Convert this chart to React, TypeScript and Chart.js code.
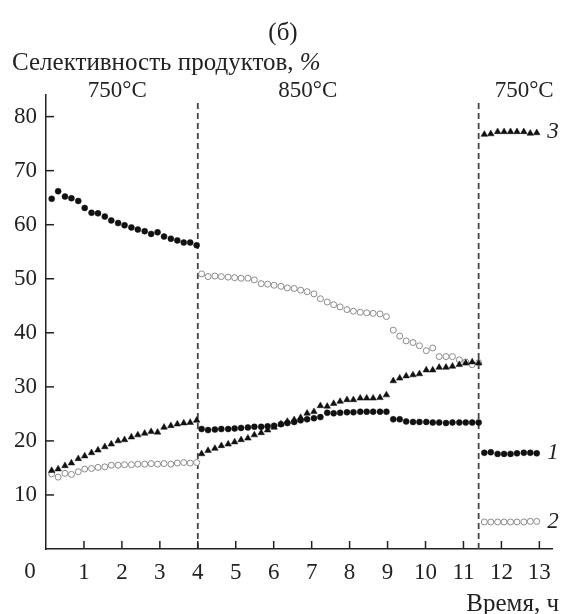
import { useEffect, useRef } from "react";
import { Chart, registerables } from "chart.js";

Chart.register(...registerables);

// Time points (h)
const timesPhase1 = [0.15, 0.32, 0.5, 0.67, 0.85, 1.02, 1.2, 1.37, 1.55, 1.72, 1.9, 2.07, 2.25, 2.42, 2.6, 2.77, 2.94, 3.11, 3.29, 3.46, 3.63, 3.8, 3.97];
const timesPhase2 = [4.1, 4.27, 4.45, 4.62, 4.8, 4.97, 5.14, 5.32, 5.49, 5.67, 5.84, 6.01, 6.19, 6.36, 6.54, 6.71, 6.88, 7.06, 7.23, 7.41, 7.58, 7.75, 7.93, 8.1, 8.28, 8.45, 8.62, 8.8, 8.97, 9.15, 9.32, 9.49, 9.67, 9.84, 10.02, 10.19, 10.36, 10.54, 10.71, 10.89, 11.06, 11.23, 11.4];
const timesPhase3 = [11.55, 11.72, 11.9, 12.07, 12.24, 12.41, 12.59, 12.76, 12.93];

// Series 1 (filled circles)
const series1Phase1 = [64.8, 66.2, 65.2, 64.9, 64.4, 63.1, 62.2, 62.1, 61.5, 60.8, 60.3, 59.9, 59.5, 59.1, 58.8, 58.3, 58.6, 57.8, 57.4, 57.1, 56.7, 56.7, 56.2];
const series1Phase2 = [22.2, 22.0, 22.1, 22.2, 22.2, 22.3, 22.4, 22.5, 22.6, 22.6, 22.7, 22.8, 23.1, 23.3, 23.5, 23.8, 24.0, 24.2, 24.4, 25.2, 25.1, 25.2, 25.3, 25.3, 25.4, 25.4, 25.4, 25.4, 25.4, 24.0, 24.0, 23.6, 23.5, 23.5, 23.5, 23.4, 23.4, 23.3, 23.4, 23.4, 23.4, 23.4, 23.4];
const series1Phase3 = [17.8, 17.9, 17.6, 17.6, 17.6, 17.7, 17.8, 17.8, 17.7];

// Series 2 (open circles)
const series2Phase1 = [13.9, 13.3, 14.0, 13.8, 14.3, 14.8, 14.9, 15.1, 15.2, 15.5, 15.5, 15.6, 15.6, 15.7, 15.7, 15.8, 15.7, 15.8, 15.7, 15.9, 16.0, 15.9, 16.0];
const series2Phase2 = [50.9, 50.4, 50.5, 50.4, 50.3, 50.2, 50.1, 50.1, 49.8, 49.1, 49.0, 48.8, 48.6, 48.3, 48.2, 47.9, 47.6, 47.2, 46.3, 45.7, 45.2, 44.8, 44.3, 44.0, 43.8, 43.7, 43.6, 43.5, 43.0, 40.5, 39.4, 38.5, 38.2, 37.6, 36.7, 37.2, 35.6, 35.6, 35.6, 35.0, 34.6, 34.1, 34.5];
const series2Phase3 = [5.0, 5.0, 5.0, 5.0, 5.0, 5.0, 5.0, 5.1, 5.1];

// Series 3 (triangles)
const series3Phase1 = [14.5, 14.8, 15.4, 15.9, 16.7, 17.2, 17.8, 18.3, 18.9, 19.4, 20.0, 20.2, 20.7, 21.1, 21.4, 21.7, 21.6, 22.5, 22.8, 23.1, 23.3, 23.4, 23.8];
const series3Phase2 = [17.6, 18.2, 18.6, 19.1, 19.4, 19.8, 20.2, 20.5, 21.1, 21.5, 22.0, 22.5, 23.1, 23.6, 23.9, 24.3, 25.1, 25.4, 26.5, 26.4, 26.9, 27.3, 27.6, 27.6, 27.9, 27.9, 27.9, 28.0, 28.5, 31.1, 31.6, 32.0, 32.2, 32.4, 33.1, 33.1, 33.6, 33.6, 33.8, 34.1, 34.4, 34.6, 34.4];
const series3Phase3 = [76.7, 76.8, 77.2, 77.2, 77.2, 77.2, 77.2, 76.9, 77.0];

const xTickValues = [1, 2, 3, 4, 5, 6, 7, 8, 9, 10, 11, 12, 13];
const yTickValues = [10, 20, 30, 40, 50, 60, 70, 80];
const dividerTimes = [4, 11.4];
const tempLabels = ["750°C", "850°C", "750°C"];
const tempLabelTimes = [1.88, 6.9, 12.6];
const seriesLabels = ["1", "2", "3"];
const seriesLabelValues = [17.8, 5.0, 77.2];

const SERIF = "'Liberation Serif', 'Times New Roman', serif";

const pts = (xs: number[], ys: number[]) => xs.map((x, i) => ({ x, y: ys[i] }));

const decorPlugin = {
  id: "decor",
  afterDraw(chart: any) {
    const { ctx, chartArea } = chart;
    const x = chart.scales.x;
    const y = chart.scales.y;
    ctx.save();
    ctx.strokeStyle = "#222";
    ctx.lineWidth = 1.5;
    xTickValues.forEach((v) => {
      const px = x.getPixelForValue(v);
      ctx.beginPath();
      ctx.moveTo(px, chartArea.bottom);
      ctx.lineTo(px, chartArea.bottom - 8);
      ctx.stroke();
    });
    yTickValues.forEach((v) => {
      const py = y.getPixelForValue(v);
      ctx.beginPath();
      ctx.moveTo(chartArea.left, py);
      ctx.lineTo(chartArea.left + 8, py);
      ctx.stroke();
    });

    ctx.fillStyle = "#222";
    ctx.textBaseline = "middle";
    // subplot label
    ctx.font = `25px ${SERIF}`;
    ctx.textAlign = "center";
    ctx.fillText("(б)", 283, 33);
    // y axis title
    ctx.textAlign = "left";
    const main = "Селективность продуктов, ";
    ctx.fillText(main, 12, 63);
    const w = ctx.measureText(main).width;
    ctx.font = `italic 25px ${SERIF}`;
    ctx.fillText("%", 12 + w, 63);
    // x axis title
    ctx.font = `25px ${SERIF}`;
    ctx.textAlign = "right";
    ctx.fillText("Время, ч", 559, 604);
    // origin zero
    ctx.font = `23px ${SERIF}`;
    ctx.textAlign = "center";
    ctx.fillText("0", 30, 572);
    // temperatures
    tempLabels.forEach((t, i) => {
      ctx.fillText(t, x.getPixelForValue(tempLabelTimes[i]), 91);
    });
    // series numbers
    ctx.font = `italic 23px ${SERIF}`;
    seriesLabels.forEach((s, i) => {
      ctx.fillText(s, 553, y.getPixelForValue(seriesLabelValues[i]));
    });
    ctx.restore();
  },
};

export default function App() {
  const ref = useRef<HTMLCanvasElement | null>(null);
  useEffect(() => {
    if (!ref.current) return;
    const dividerSets = dividerTimes.map((t) => ({
      type: "line" as const,
      data: [
        { x: t, y: 0 },
        { x: t, y: 83 },
      ],
      borderColor: "#444",
      borderWidth: 1.8,
      borderDash: [6, 4],
      pointRadius: 0,
      showLine: true,
      order: 10,
    }));
    const chart = new Chart(ref.current, {
      type: "scatter",
      data: {
        datasets: [
          {
            label: "1",
            data: [...pts(timesPhase1, series1Phase1), ...pts(timesPhase2, series1Phase2), ...pts(timesPhase3, series1Phase3)],
            pointStyle: "circle",
            pointRadius: 3,
            backgroundColor: "#111",
            borderColor: "#111",
            borderWidth: 0.5,
            order: 1,
          },
          {
            label: "2",
            data: [...pts(timesPhase1, series2Phase1), ...pts(timesPhase2, series2Phase2), ...pts(timesPhase3, series2Phase3)],
            pointStyle: "circle",
            pointRadius: 3,
            backgroundColor: "#fff",
            borderColor: "#8a8a8a",
            borderWidth: 1,
            order: 2,
          },
          {
            label: "3",
            data: [...pts(timesPhase1, series3Phase1), ...pts(timesPhase2, series3Phase2), ...pts(timesPhase3, series3Phase3)],
            pointStyle: "triangle",
            pointRadius: 3.8,
            backgroundColor: "#111",
            borderColor: "#111",
            borderWidth: 0.5,
            order: 0,
          },
          ...dividerSets,
        ] as any,
      },
      options: {
        responsive: false,
        animation: false,
        layout: { padding: { left: 0, right: 5, top: 95, bottom: 0 } },
        plugins: { legend: { display: false }, tooltip: { enabled: false } },
        scales: {
          x: {
            type: "linear",
            min: 0,
            max: 13.35,
            afterBuildTicks: (s: any) => {
              s.ticks = xTickValues.map((value) => ({ value }));
            },
            afterFit: (s: any) => {
              s.height = 65;
            },
            grid: { display: false, drawTicks: false },
            border: { display: true, color: "#222", width: 1.5 },
            ticks: {
              autoSkip: false,
              maxRotation: 0,
              padding: 10,
              color: "#222",
              font: { family: SERIF, size: 23 },
              callback: (v: any) => String(v),
            },
          },
          y: {
            type: "linear",
            min: 0,
            max: 84,
            afterBuildTicks: (s: any) => {
              s.ticks = yTickValues.map((value) => ({ value }));
            },
            afterFit: (s: any) => {
              s.width = 46;
            },
            grid: { display: false, drawTicks: false },
            border: { display: true, color: "#222", width: 1.5 },
            ticks: {
              autoSkip: false,
              padding: 9,
              color: "#222",
              font: { family: SERIF, size: 23 },
              callback: (v: any) => String(v),
            },
          },
        },
      },
      plugins: [decorPlugin],
    });
    return () => chart.destroy();
  }, []);
  return (
    <div style={{ position: "fixed", left: 0, top: 0, width: 561, height: 614, background: "#fff" }}>
      <canvas ref={ref} width={561} height={614} />
    </div>
  );
}
